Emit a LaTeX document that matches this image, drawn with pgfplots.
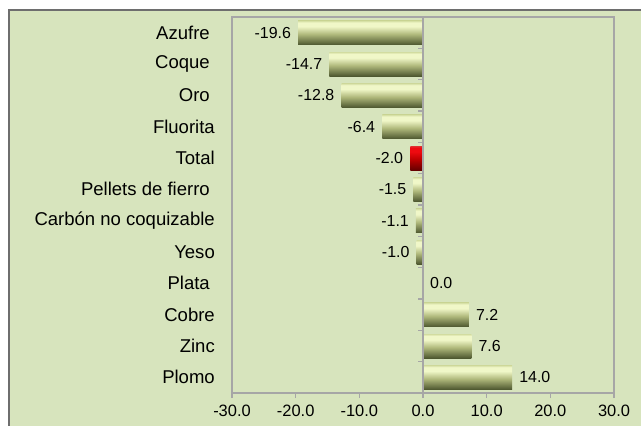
\documentclass[border=0pt]{standalone}
\usepackage{pgfplots}
\pgfplotsset{compat=1.18}
\usepackage{fontspec}
\setmainfont{Liberation Sans}
\definecolor{bg}{HTML}{D7E4BD}
\definecolor{frame}{HTML}{A6A6A6}
\definecolor{outer}{HTML}{6E6E6E}
\definecolor{gtop}{HTML}{D2DCA0}
\definecolor{glight}{HTML}{F0F7C8}
\definecolor{gmid}{HTML}{B0B97C}
\definecolor{gdark}{HTML}{4E5830}
\definecolor{rtop}{HTML}{E03030}
\definecolor{rlight}{HTML}{EE0A10}
\definecolor{rmid}{HTML}{BB0000}
\definecolor{rdark}{HTML}{660000}
\pgfdeclareverticalshading{gbar}{100bp}{color(0bp)=(gdark); color(25bp)=(gdark); color(47bp)=(gmid); color(63bp)=(glight); color(71bp)=(glight); color(75bp)=(gtop); color(100bp)=(gtop)}
\pgfdeclareverticalshading{rbar}{100bp}{color(0bp)=(rdark); color(25bp)=(rdark); color(47bp)=(rmid); color(63bp)=(rlight); color(71bp)=(rlight); color(75bp)=(rtop); color(100bp)=(rtop)}
\pgfplotsset{gb/.style={draw=none, shade, shading=gbar}, rb/.style={draw=none, shade, shading=rbar}}
\begin{document}
\begin{tikzpicture}
\useasboundingbox (0,0) rectangle (641bp,426bp);
\fill[white] (0,0) rectangle (641bp,426bp);
\filldraw[fill=bg, draw=outer, line width=2bp] (9bp,-10bp) rectangle (660bp,416bp);
\begin{axis}[
  at={(232bp,33bp)}, anchor=south west,
  scale only axis, width=382bp, height=376bp,
  xmin=-30, xmax=30, ymin=-0.5, ymax=11.5,
  y dir=reverse,
  axis line style={frame, line width=1.5bp},
  xtick={-30,-20,...,30},
  ytick={0,...,11},
  yticklabels={Azufre\kern5bp,Coque\kern5bp,Oro\kern5bp,Fluorita,Total,Pellets de fierro\kern5bp,Carbón no coquizable,Yeso,Plata\kern5bp,Cobre,Zinc,Plomo},
  xtick pos=lower, ytick pos=left,
  xtick align=outside,
  major tick length=5bp,
  xtick style={frame, line width=1.5bp},
  ytick style={draw=none},
  /pgf/number format/assume math mode=true,
  xticklabel style={font=\fontsize{16.5}{19}\selectfont, inner sep=0pt, yshift=-7bp,
    /pgf/number format/.cd, fixed, fixed zerofill, precision=1},
  yticklabel style={font=\fontsize{18.6}{21}\selectfont, inner sep=0pt, anchor=east, xshift=-12bp},
  xbar, bar width=24bp, bar shift=0pt,
  point meta=x,
  nodes near coords={\pgfmathprintnumber[fixed,fixed zerofill,precision=1,assume math mode=true]{\pgfplotspointmeta}},
  every node near coord/.append style={font=\fontsize{16}{19}\selectfont, text=black, inner xsep=7bp, inner ysep=0pt},
  clip=false,
]
\addplot[gb] coordinates {(-19.6,0)};
\addplot[gb] coordinates {(-14.7,1)};
\addplot[gb] coordinates {(-12.8,2)};
\addplot[gb] coordinates {(-6.4,3)};
\addplot[rb] coordinates {(-2.0,4)};
\addplot[gb] coordinates {(-1.5,5)};
\addplot[gb] coordinates {(-1.1,6)};
\addplot[gb] coordinates {(-1.0,7)};
\addplot[gb] coordinates {(0.0,8)};
\addplot[gb] coordinates {(7.2,9)};
\addplot[gb] coordinates {(7.6,10)};
\addplot[gb] coordinates {(14.0,11)};
\draw[frame, line width=2bp] (axis cs:0,-0.5) -- (axis cs:0,11.5);
\pgfplotsinvokeforeach{-0.5,0.5,1.5,2.5,3.5,4.5,5.5,6.5,7.5,8.5,9.5,10.5,11.5}{
  \draw[frame, line width=1.5bp] (axis cs:0,#1) -- ([xshift=-5bp]axis cs:0,#1);
}
\end{axis}
\end{tikzpicture}
\end{document}
